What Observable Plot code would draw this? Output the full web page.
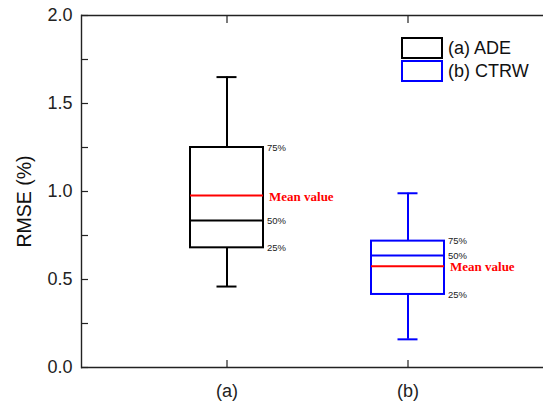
<!DOCTYPE html>
<html>
<head>
<meta charset="utf-8">
<script src="https://cdn.jsdelivr.net/npm/d3@7"></script>
<script src="https://cdn.jsdelivr.net/npm/@observablehq/plot@0.6"></script>
<style>
  html, body { margin: 0; padding: 0; background: #fff; overflow: hidden; }
  #wrap { position: relative; width: 543px; height: 407px; font-family: "Liberation Sans", Arial, sans-serif; }
  #legend { position: absolute; left: 401px; top: 37px; }
  .row { display: flex; align-items: center; height: 22px; margin-bottom: 1px; }
  .sw { width: 38px; height: 18px; border: 2px solid #000; box-sizing: content-box; margin-right: 5px; }
  .lbl { font-size: 18px; color: #111; line-height: 1; }
</style>
</head>
<body>
<div id="wrap"><div id="legend"></div></div>
<script>
// ---- data ----
const categories = ["(a)", "(b)"];
const seriesNames = ["(a) ADE", "(b) CTRW"];
const colors = ["#000000", "#0000ff"];
const minV = [0.46, 0.16];
const q1V = [0.68, 0.415];
const medianV = [0.835, 0.636];
const meanV = [0.977, 0.575];
const q3V = [1.25, 0.718];
const maxV = [1.65, 0.99];
const yTicks = [0, 0.5, 1.0, 1.5, 2.0];
const yMinorTicks = [0.25, 0.75, 1.25, 1.75];
const pctLabels = ["25%", "50%", "75%"];
const meanLabel = "Mean value";
const yTitle = "RMSE (%)";

const boxes = categories.map((c, i) => ({
  cat: c, color: colors[i], min: minV[i], q1: q1V[i], median: medianV[i],
  mean: meanV[i], q3: q3V[i], max: maxV[i]
}));
const pctData = boxes.flatMap(b => [
  {cat: b.cat, y: b.q1, text: pctLabels[0]},
  {cat: b.cat, y: b.median, text: pctLabels[1]},
  {cat: b.cat, y: b.q3, text: pctLabels[2]}
]);

const axisColor = "#222";

const chart = Plot.plot({
  width: 543,
  height: 407,
  marginLeft: 81,
  marginRight: 0,
  marginTop: 15,
  marginBottom: 40,
  style: {fontFamily: "'Liberation Sans', Arial, sans-serif", background: "white", color: axisColor},
  x: {type: "band", domain: categories, range: [190, 444], paddingInner: 0.597, paddingOuter: 0},
  y: {domain: [0, 2]},
  marks: [
    // frame lines
    Plot.ruleY([0, 2], {stroke: axisColor, strokeWidth: 1.4}),
    Plot.frame({anchor: "left", stroke: axisColor, strokeWidth: 1.4}),
    // axes
    Plot.axisY({ticks: yTicks, tickSize: -7, tickPadding: 16, tickFormat: d => d.toFixed(1), fontSize: 18, label: null, stroke: axisColor, strokeWidth: 1.2}),
    Plot.axisY({ticks: yMinorTicks, tickSize: -7, tickFormat: () => "", label: null, stroke: axisColor, strokeWidth: 1.2}),
    Plot.axisX({tickSize: -7, tickPadding: 24, fontSize: 18, label: null, stroke: axisColor, strokeWidth: 1.2}),
    Plot.axisX({anchor: "top", tickSize: -7, tickFormat: () => "", label: null, stroke: axisColor, strokeWidth: 1.2}),
    // y title
    Plot.text([yTitle], {frameAnchor: "left", dx: -57, dy: 10, rotate: -90, fontSize: 19.5, fill: "#111", textAnchor: "middle", lineAnchor: "middle"}),
    // whiskers
    Plot.ruleX(boxes, {x: "cat", y1: "q3", y2: "max", stroke: "color", strokeWidth: 2}),
    Plot.ruleX(boxes, {x: "cat", y1: "min", y2: "q1", stroke: "color", strokeWidth: 2}),
    Plot.tickY(boxes, {x: "cat", y: "max", stroke: "color", strokeWidth: 2, inset: 26.5}),
    Plot.tickY(boxes, {x: "cat", y: "min", stroke: "color", strokeWidth: 2, inset: 26.5}),
    // boxes
    Plot.barY(boxes, {x: "cat", y1: "q1", y2: "q3", fill: "white", stroke: "color", strokeWidth: 2}),
    Plot.tickY(boxes, {x: "cat", y: "median", stroke: "color", strokeWidth: 2}),
    Plot.tickY(boxes, {x: "cat", y: "mean", stroke: "#ff0000", strokeWidth: 2}),
    // labels
    Plot.text(pctData, {x: "cat", y: "y", text: "text", dx: 40, textAnchor: "start", fontSize: 9.5, fill: "#222"}),
    Plot.text(boxes, {x: "cat", y: "mean", text: () => meanLabel, dx: 42, dy: 1, textAnchor: "start", fontSize: 13, fontWeight: "bold", fontFamily: "'Liberation Serif', 'Times New Roman', serif", fill: "#ff0000"})
  ]
});

const wrap = document.getElementById("wrap");
wrap.insertBefore(chart, wrap.firstChild);

const legend = document.getElementById("legend");
seriesNames.forEach((name, i) => {
  const row = document.createElement("div");
  row.className = "row";
  const sw = document.createElement("div");
  sw.className = "sw";
  sw.style.borderColor = colors[i];
  const lbl = document.createElement("span");
  lbl.className = "lbl";
  lbl.textContent = name;
  row.appendChild(sw);
  row.appendChild(lbl);
  legend.appendChild(row);
});
</script>
</body>
</html>
